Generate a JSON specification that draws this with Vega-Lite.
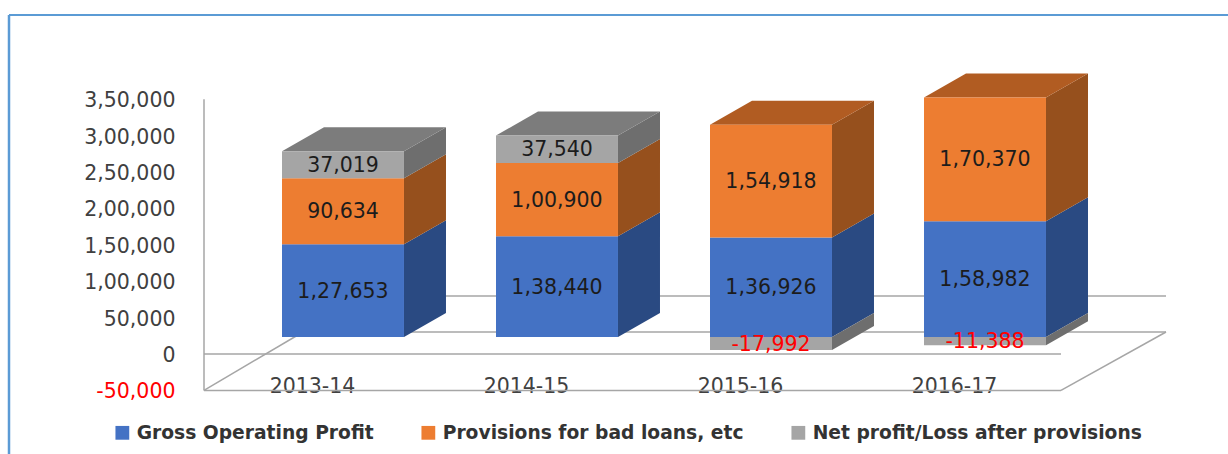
{
"$schema":"https://vega.github.io/schema/vega-lite/v6.json",
"width":1219,"height":439,
"autosize":{"type":"none"},
"padding":{"left":9,"top":15,"right":0,"bottom":0},
"background":"white",
"view":{"stroke":null},
"config":{"font":"DejaVu Sans"},
"resolve":{"axis":{"x":"independent","y":"independent"}},
"datasets":{
"one":[{"k":1}],
"rows":[
{"year":"2013-14","series":"Gross Operating Profit","value":127653},
{"year":"2013-14","series":"Provisions for bad loans, etc","value":90634},
{"year":"2013-14","series":"Net profit/Loss after provisions","value":37019},
{"year":"2014-15","series":"Gross Operating Profit","value":138440},
{"year":"2014-15","series":"Provisions for bad loans, etc","value":100900},
{"year":"2014-15","series":"Net profit/Loss after provisions","value":37540},
{"year":"2015-16","series":"Gross Operating Profit","value":136926},
{"year":"2015-16","series":"Provisions for bad loans, etc","value":154918},
{"year":"2015-16","series":"Net profit/Loss after provisions","value":-17992},
{"year":"2016-17","series":"Gross Operating Profit","value":158982},
{"year":"2016-17","series":"Provisions for bad loans, etc","value":170370},
{"year":"2016-17","series":"Net profit/Loss after provisions","value":-11388}
]},
"layer":[
{"data":{"name":"one"},
"resolve":{"axis":{"x":"independent","y":"independent"}},
"layer":[
{"mark":{"type":"rule","color":"#a6a6a6","strokeWidth":1.5},
"encoding":{
"x":{"datum":-0.6495,"type":"quantitative","title":null,
"scale":{"domain":[-1.5607,4.1355],"nice":false,"zero":false},
"axis":{"orient":"bottom","values":[0,1,2,3],"grid":false,"domain":false,"ticks":false,"title":null,"offset":-50,"labelPadding":-8,"labelBaseline":"bottom","labelOffset":-31,"labelFontSize":20.5,"labelFont":"DejaVu Sans","labelColor":"#404040",
"labelExpr":"['2013-14','2014-15','2015-16','2016-17'][datum.value]"}},
"y":{"datum":350000,"type":"quantitative","title":null,
"scale":{"domain":[-137457,465979],"nice":false,"zero":false},
"axis":{"orient":"left","values":[-50000,0,50000,100000,150000,200000,250000,300000,350000],"grid":false,"domain":false,"ticks":false,"title":null,"offset":-195,"labelPadding":29,"labelOffset":1.5,"labelFontSize":20.5,"labelFont":"DejaVu Sans",
"labelColor":{"expr":"datum.value<0?'#ff0000':'#404040'"},
"labelExpr":"datum.value<0?'-'+format(abs(datum.value),','):(datum.value>=100000?floor(datum.value/100000)+','+format(datum.value%100000,'06,d'):format(datum.value,','))"}},
"y2":{"datum":-50000}}},
{"mark":{"type":"rule","color":"#a6a6a6","strokeWidth":1.5},"encoding":{"x":{"datum":-0.6495,"type":"quantitative","axis":null},"x2":{"datum":3.3551},"y":{"datum":0,"type":"quantitative","axis":null}}},
{"mark":{"type":"rule","color":"#a6a6a6","strokeWidth":1.5},"encoding":{"x":{"datum":-0.6495,"type":"quantitative","axis":null},"x2":{"datum":3.3551},"y":{"datum":-50000,"type":"quantitative","axis":null}}},
{"mark":{"type":"rule","color":"#a6a6a6","strokeWidth":1.5},"encoding":{"x":{"datum":-0.1869,"type":"quantitative","axis":null},"x2":{"datum":3.8458},"y":{"datum":30240,"type":"quantitative","axis":null}}},
{"mark":{"type":"rule","color":"#a6a6a6","strokeWidth":1.5},"encoding":{"x":{"datum":-0.1869,"type":"quantitative","axis":null},"x2":{"datum":3.8458},"y":{"datum":79725,"type":"quantitative","axis":null}}},
{"mark":{"type":"rule","color":"#a6a6a6","strokeWidth":1.5},"encoding":{"x":{"datum":-0.6495,"type":"quantitative","axis":null},"x2":{"datum":-0.1869},"y":{"datum":-50000,"type":"quantitative","axis":null},"y2":{"datum":30240}}},
{"mark":{"type":"rule","color":"#a6a6a6","strokeWidth":1.5},"encoding":{"x":{"datum":3.3551,"type":"quantitative","axis":null},"x2":{"datum":3.8458},"y":{"datum":-50000,"type":"quantitative","axis":null},"y2":{"datum":30240}}},
{"mark":{"type":"rule","color":"#5b9bd5","strokeWidth":2.5},"encoding":{"x":{"datum":-1.5607,"type":"quantitative","axis":null}}},
{"mark":{"type":"rule","color":"#5b9bd5","strokeWidth":2},"encoding":{"y":{"datum":465979,"type":"quantitative","axis":null}}}
]},
{"data":{"name":"rows"},
"transform":[
{"calculate":"indexof(['2013-14','2014-15','2015-16','2016-17'],datum.year)","as":"idx"},
{"calculate":"indexof(['Gross Operating Profit','Provisions for bad loans, etc','Net profit/Loss after provisions'],datum.series)","as":"ord"},
{"stack":"value","groupby":["year"],"sort":[{"field":"ord","order":"ascending"}],"as":["s0","s1"]},
{"calculate":"datum.s0+23368","as":"fb"},
{"calculate":"datum.s1+23368","as":"ft"},
{"calculate":"datum.idx-0.285","as":"x0"},
{"calculate":"datum.idx+0.285","as":"x1"},
{"calculate":"(datum.fb+datum.ft)/2","as":"ym"},
{"calculate":"datum.value<0?'-'+format(abs(datum.value),','):(datum.value>=100000?floor(datum.value/100000)+','+format(datum.value%100000,'06,d'):format(datum.value,','))","as":"label"}
],
"resolve":{"scale":{"color":"independent"}},
"layer":[
{"transform":[
{"calculate":"[0,1]","as":"t"},{"flatten":["t"]},
{"calculate":"datum.x1+datum.t*0.19626","as":"px"},
{"calculate":"datum.ft+datum.t*32990","as":"py"},
{"calculate":"datum.fb+datum.t*32990","as":"py2"}],
"mark":{"type":"area","interpolate":"linear","line":false},
"encoding":{
"x":{"field":"px","type":"quantitative","axis":null},
"y":{"field":"py","type":"quantitative","axis":null,"stack":null},
"y2":{"field":"py2"},
"detail":{"field":"year"},
"color":{"field":"series","type":"nominal","legend":null,
"scale":{"domain":["Gross Operating Profit","Provisions for bad loans, etc","Net profit/Loss after provisions"],"range":["#2a4a82","#96501d","#6e6e6e"]}}}},
{"transform":[
{"joinaggregate":[{"op":"max","field":"s1","as":"maxs"}],"groupby":["year"]},
{"filter":"datum.s1==datum.maxs"},
{"calculate":"[0,1,2,3]","as":"t"},{"flatten":["t"]},
{"calculate":"datum.x0+[0,0.19626,0.57,0.76626][datum.t]","as":"px"},
{"calculate":"datum.ft+[0,32990,32990,32990][datum.t]","as":"py"},
{"calculate":"datum.ft+[0,0,0,32990][datum.t]","as":"py2"}],
"mark":{"type":"area","interpolate":"linear"},
"encoding":{
"x":{"field":"px","type":"quantitative","axis":null},
"y":{"field":"py","type":"quantitative","axis":null,"stack":null},
"y2":{"field":"py2"},
"detail":{"field":"year"},
"color":{"field":"series","type":"nominal","legend":null,
"scale":{"domain":["Gross Operating Profit","Provisions for bad loans, etc","Net profit/Loss after provisions"],"range":["#2a4a82","#b15c22","#7c7c7c"]}}}},
{"mark":{"type":"rect"},
"encoding":{
"x":{"field":"x0","type":"quantitative","axis":null},
"x2":{"field":"x1"},
"y":{"field":"ft","type":"quantitative","axis":null},
"y2":{"field":"fb"},
"color":{"field":"series","type":"nominal",
"scale":{"domain":["Gross Operating Profit","Provisions for bad loans, etc","Net profit/Loss after provisions"],"range":["#4472c4","#ed7d31","#a5a5a5"]},
"legend":{"orient":"none","legendX":104,"legendY":408,"direction":"horizontal","title":null,"symbolType":"square","symbolSize":190,"symbolStrokeWidth":0,"labelFontSize":18.7,"labelFontWeight":"bold","labelFont":"DejaVu Sans","labelColor":"#333333","labelLimit":400,"columnPadding":45,"labelOffset":5,"columns":3}}}},
{"mark":{"type":"text","fontSize":20.5,"font":"DejaVu Sans","dy":1},
"encoding":{
"x":{"field":"idx","type":"quantitative","axis":null},
"y":{"field":"ym","type":"quantitative","axis":null},
"text":{"field":"label"},
"color":{"condition":{"test":"datum.value<0","value":"#ff0000"},"value":"#1c1c1c"}}}
]}
]
}
